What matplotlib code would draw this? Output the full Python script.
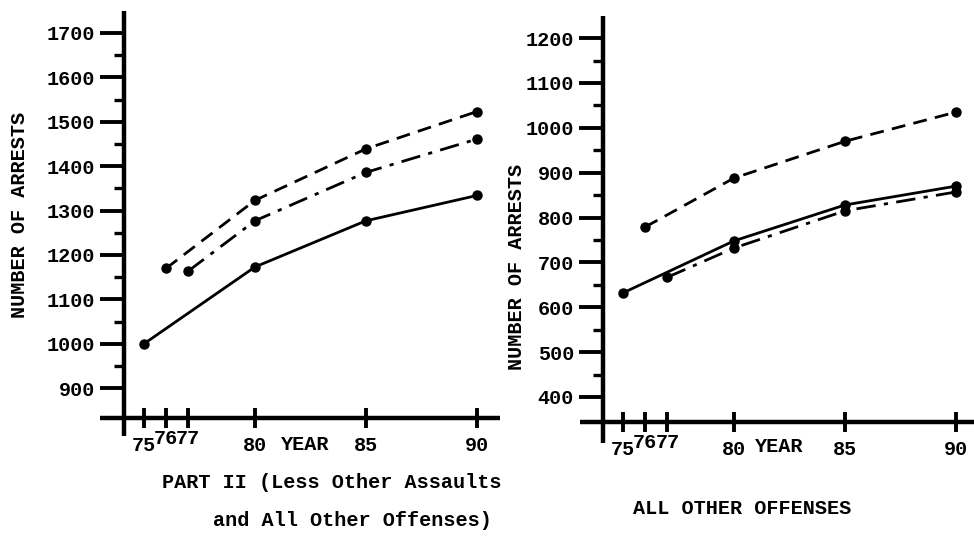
"""Projected arrests, 1975-1990: two typewritten-style panels."""
import matplotlib
matplotlib.use('Agg')
import matplotlib.pyplot as plt
from matplotlib.transforms import ScaledTranslation

# years on which each series was plotted
years_dashed = [76, 80, 85, 90]
years_dashdot = [77, 80, 85, 90]
years_solid = [75, 80, 85, 90]

# left panel: Part II (less other assaults and all other offenses)
left_dashed = [1170, 1323, 1439, 1523]
left_dashdot = [1164, 1277, 1386, 1461]
left_solid = [1000, 1173, 1277, 1334]

# right panel: all other offenses
right_dashed = [779, 888, 970, 1035]
right_dashdot = [667, 732, 815, 857]
right_solid = [632, 748, 828, 870]

x_ticks = [75, 76, 77, 80, 85, 90]
x_tick_labels = ['75', '76', '77', '80', '85', '90']
left_y_ticks = [900, 1000, 1100, 1200, 1300, 1400, 1500, 1600, 1700]
right_y_ticks = [400, 500, 600, 700, 800, 900, 1000, 1100, 1200]

FONT = 'Liberation Mono'
W, H = 974, 539


def _fx(px):
    return px / W


def _fy(py):
    return 1 - py / H


def _style_axis(fig, ax, xlim, ylim, ycross, yticks, yminor):
    ax.set_xlim(*xlim)
    ax.set_ylim(*ylim)
    for side in ('top', 'right'):
        ax.spines[side].set_visible(False)
    ax.spines['left'].set_position(('data', 74.1))
    ax.spines['bottom'].set_position(('data', ycross))
    for side in ('left', 'bottom'):
        ax.spines[side].set_linewidth(3.2)
        ax.spines[side].set_capstyle('butt')
    ax.spines['left'].set_bounds(ylim[0] + 8, ylim[1] - 2)
    ax.spines['bottom'].set_bounds(xlim[0], xlim[1])

    ax.set_xticks(x_ticks)
    ax.set_xticklabels(x_tick_labels)
    ax.set_yticks(yticks)
    ax.set_yticks(yminor, minor=True)
    ax.tick_params(axis='y', which='major', direction='out', length=17,
                   width=2.8, pad=4, labelsize=14.5)
    ax.tick_params(axis='y', which='minor', direction='out', length=7,
                   width=2.4)
    ax.tick_params(axis='x', which='major', direction='inout', length=14,
                   width=2.8, pad=6, labelsize=14.5)
    for lbl in ax.get_xticklabels() + ax.get_yticklabels():
        lbl.set_fontfamily(FONT)
        lbl.set_fontweight('bold')
    # 76 and 77 were typed a little higher than 75
    for lbl in ax.get_xticklabels()[1:3]:
        lbl.set_transform(lbl.get_transform()
                          + ScaledTranslation(0, 5 / 72, fig.dpi_scale_trans))


def _plot_series(ax, dashed, dashdot, solid):
    kw = dict(color='black', linewidth=2.0, marker='o', markersize=6.5,
              clip_on=False)
    ax.plot(years_dashed, dashed, linestyle=(0, (5, 3)), **kw)
    ax.plot(years_dashdot, dashdot, linestyle=(0, (7, 3, 1.5, 3)), **kw)
    ax.plot(years_solid, solid, linestyle='-', **kw)


fig = plt.figure(figsize=(W / 100, H / 100), dpi=100)
fig.patch.set_facecolor('white')

# left panel
ax1 = fig.add_axes([_fx(100), 0.185, _fx(400), 0.7967])
_style_axis(fig, ax1, (73.02, 91.04), (785, 1752), 833,
            left_y_ticks, [950, 1050, 1150, 1250, 1350, 1450, 1550, 1650])
_plot_series(ax1, left_dashed, left_dashdot, left_solid)

# right panel
ax2 = fig.add_axes([_fx(580), 0.172, _fx(394), 0.8006])
_style_axis(fig, ax2, (73.06, 90.81), (290, 1252), 344,
            right_y_ticks, [450, 550, 650, 750, 850, 950, 1050, 1150])
_plot_series(ax2, right_dashed, right_dashdot, right_solid)

txt = dict(family=FONT, fontweight='bold', color='black')
fig.text(_fx(20), _fy(215), 'NUMBER OF ARRESTS', rotation=90,
         ha='center', va='center', fontsize=14.5, **txt)
fig.text(_fx(517), _fy(267), 'NUMBER OF ARRESTS', rotation=90,
         ha='center', va='center', fontsize=14.5, **txt)
fig.text(_fx(305), _fy(444), 'YEAR', ha='center', va='center',
         fontsize=14.5, **txt)
fig.text(_fx(779), _fy(446), 'YEAR', ha='center', va='center',
         fontsize=14.5, **txt)
fig.text(_fx(332), _fy(483), 'PART II (Less Other Assaults',
         ha='center', va='center', fontsize=14.5, **txt)
fig.text(_fx(352), _fy(521), 'and All Other Offenses)',
         ha='center', va='center', fontsize=14.5, **txt)
fig.text(_fx(742), _fy(509), 'ALL OTHER OFFENSES',
         ha='center', va='center', fontsize=14.5, **txt)

plt.savefig('out.png', dpi=100)
